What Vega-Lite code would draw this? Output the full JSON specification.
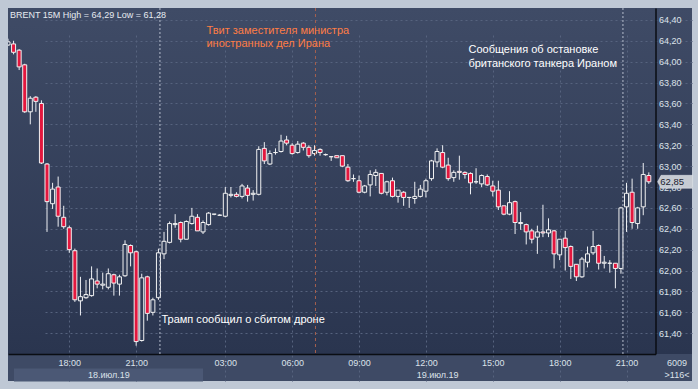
{
  "$schema": "https://vega.github.io/schema/vega-lite/v6.json",
  "width": 684,
  "height": 373,
  "autosize": "none",
  "padding": {"left": 8, "top": 8, "right": 6, "bottom": 8},
  "background": "#bfc8d5",
  "title": {"text": "BRENT 15M High = 64,29 Low = 61,28", "anchor": "start", "frame": "group", "orient": "top", "offset": -12, "baseline": "top", "dx": 2, "fontSize": 9, "fontWeight": "normal", "color": "#e6eaf0"},
  "config": {
    "font": "Liberation Sans",
    "locale": {"number": {"decimal": ",", "thousands": " ", "grouping": [3], "currency": ["", ""]}},
    "axisY": {"tickCount": 16, "labelOverlap": false, "labelFlush": false, "format": ".2f"},
    "view": {"stroke": null, "fill": {"gradient": "linear", "x1": 0, "y1": 0, "x2": 0, "y2": 1, "stops": [{"offset": 0, "color": "#3f4b66"}, {"offset": 0.927, "color": "#2a354f"}, {"offset": 0.928, "color": "#3e4a65"}, {"offset": 1, "color": "#3e4a65"}]}}
  },
  "datasets": {
    "candles": [
      {"t": "18 15:15", "o": 64.16, "h": 64.22, "l": 64.15, "c": 64.19},
      {"t": "18 15:30", "o": 64.17, "h": 64.20, "l": 64.07, "c": 64.09},
      {"t": "18 15:45", "o": 64.11, "h": 64.12, "l": 63.92, "c": 63.95},
      {"t": "18 16:00", "o": 63.97, "h": 63.98, "l": 63.51, "c": 63.52},
      {"t": "18 16:15", "o": 63.52, "h": 63.67, "l": 63.40, "c": 63.65},
      {"t": "18 16:30", "o": 63.66, "h": 63.67, "l": 63.52, "c": 63.62},
      {"t": "18 16:45", "o": 63.60, "h": 63.63, "l": 63.02, "c": 63.03},
      {"t": "18 17:00", "o": 63.02, "h": 63.03, "l": 62.37, "c": 62.66},
      {"t": "18 17:15", "o": 62.64, "h": 62.84, "l": 62.59, "c": 62.78},
      {"t": "18 17:30", "o": 62.80, "h": 62.90, "l": 62.42, "c": 62.52},
      {"t": "18 17:45", "o": 62.51, "h": 62.62, "l": 62.40, "c": 62.42},
      {"t": "18 18:00", "o": 62.41, "h": 62.43, "l": 62.17, "c": 62.20},
      {"t": "18 18:15", "o": 62.19, "h": 62.21, "l": 61.70, "c": 61.72},
      {"t": "18 18:30", "o": 61.71, "h": 61.94, "l": 61.57, "c": 61.75},
      {"t": "18 18:45", "o": 61.74, "h": 61.91, "l": 61.73, "c": 61.77},
      {"t": "18 19:00", "o": 61.76, "h": 62.04, "l": 61.75, "c": 61.92},
      {"t": "18 19:15", "o": 61.90, "h": 62.02, "l": 61.83, "c": 61.87},
      {"t": "18 19:30", "o": 61.86, "h": 61.98, "l": 61.82, "c": 61.87},
      {"t": "18 19:45", "o": 61.84, "h": 62.02, "l": 61.82, "c": 61.97},
      {"t": "18 20:00", "o": 61.96, "h": 61.97, "l": 61.76, "c": 61.88},
      {"t": "18 20:15", "o": 61.87, "h": 61.96, "l": 61.76, "c": 61.94},
      {"t": "18 20:30", "o": 61.95, "h": 62.29, "l": 61.94, "c": 62.25},
      {"t": "18 20:45", "o": 62.24, "h": 62.25, "l": 62.04, "c": 62.17},
      {"t": "18 21:00", "o": 62.18, "h": 62.19, "l": 61.28, "c": 61.32},
      {"t": "18 21:15", "o": 61.33, "h": 61.97, "l": 61.32, "c": 61.93},
      {"t": "18 21:30", "o": 61.94, "h": 61.95, "l": 61.52, "c": 61.59},
      {"t": "18 21:45", "o": 61.60, "h": 61.74, "l": 61.57, "c": 61.72},
      {"t": "18 22:00", "o": 61.74, "h": 62.21, "l": 61.72, "c": 62.17},
      {"t": "18 22:15", "o": 62.16, "h": 62.37, "l": 62.11, "c": 62.28},
      {"t": "18 22:30", "o": 62.27, "h": 62.47, "l": 62.26, "c": 62.45},
      {"t": "18 22:45", "o": 62.44, "h": 62.54, "l": 62.41, "c": 62.45},
      {"t": "19 01:00", "o": 62.46, "h": 62.47, "l": 62.27, "c": 62.30},
      {"t": "19 01:15", "o": 62.30, "h": 62.48, "l": 62.30, "c": 62.47},
      {"t": "19 01:30", "o": 62.45, "h": 62.60, "l": 62.44, "c": 62.52},
      {"t": "19 01:45", "o": 62.51, "h": 62.54, "l": 62.38, "c": 62.38},
      {"t": "19 02:00", "o": 62.37, "h": 62.48, "l": 62.35, "c": 62.46},
      {"t": "19 02:15", "o": 62.44, "h": 62.56, "l": 62.43, "c": 62.55},
      {"t": "19 02:30", "o": 62.54, "h": 62.54, "l": 62.53, "c": 62.54},
      {"t": "19 02:45", "o": 62.53, "h": 62.54, "l": 62.53, "c": 62.53},
      {"t": "19 03:00", "o": 62.52, "h": 62.80, "l": 62.51, "c": 62.74},
      {"t": "19 03:15", "o": 62.72, "h": 62.80, "l": 62.70, "c": 62.73},
      {"t": "19 03:30", "o": 62.73, "h": 62.75, "l": 62.70, "c": 62.71},
      {"t": "19 03:45", "o": 62.71, "h": 62.83, "l": 62.69, "c": 62.81},
      {"t": "19 04:00", "o": 62.79, "h": 62.82, "l": 62.66, "c": 62.72},
      {"t": "19 04:15", "o": 62.73, "h": 62.77, "l": 62.67, "c": 62.74},
      {"t": "19 04:30", "o": 62.73, "h": 63.19, "l": 62.72, "c": 63.16},
      {"t": "19 04:45", "o": 63.17, "h": 63.23, "l": 63.02, "c": 63.05},
      {"t": "19 05:00", "o": 63.02, "h": 63.15, "l": 63.01, "c": 63.12},
      {"t": "19 05:15", "o": 63.13, "h": 63.17, "l": 63.11, "c": 63.13},
      {"t": "19 05:30", "o": 63.14, "h": 63.30, "l": 63.13, "c": 63.24},
      {"t": "19 05:45", "o": 63.25, "h": 63.29, "l": 63.20, "c": 63.22},
      {"t": "19 06:00", "o": 63.20, "h": 63.22, "l": 63.11, "c": 63.12},
      {"t": "19 06:15", "o": 63.13, "h": 63.24, "l": 63.12, "c": 63.21},
      {"t": "19 06:30", "o": 63.22, "h": 63.23, "l": 63.15, "c": 63.18},
      {"t": "19 06:45", "o": 63.18, "h": 63.20, "l": 63.08, "c": 63.10},
      {"t": "19 07:00", "o": 63.12, "h": 63.20, "l": 63.10, "c": 63.15},
      {"t": "19 07:15", "o": 63.16, "h": 63.17, "l": 63.10, "c": 63.13},
      {"t": "19 07:30", "o": 63.11, "h": 63.12, "l": 63.10, "c": 63.11},
      {"t": "19 07:45", "o": 63.09, "h": 63.09, "l": 63.05, "c": 63.09},
      {"t": "19 08:00", "o": 63.10, "h": 63.10, "l": 63.08, "c": 63.08},
      {"t": "19 08:15", "o": 63.10, "h": 63.10, "l": 62.99, "c": 63.00},
      {"t": "19 08:30", "o": 62.99, "h": 63.02, "l": 62.85, "c": 62.86},
      {"t": "19 08:45", "o": 62.88, "h": 62.92, "l": 62.85, "c": 62.88},
      {"t": "19 09:00", "o": 62.86, "h": 62.91, "l": 62.74, "c": 62.75},
      {"t": "19 09:15", "o": 62.75, "h": 62.82, "l": 62.74, "c": 62.81},
      {"t": "19 09:30", "o": 62.82, "h": 62.96, "l": 62.71, "c": 62.92},
      {"t": "19 09:45", "o": 62.91, "h": 62.97, "l": 62.81, "c": 62.94},
      {"t": "19 10:00", "o": 62.93, "h": 62.93, "l": 62.73, "c": 62.74},
      {"t": "19 10:15", "o": 62.75, "h": 62.86, "l": 62.72, "c": 62.85},
      {"t": "19 10:30", "o": 62.86, "h": 62.89, "l": 62.70, "c": 62.71},
      {"t": "19 10:45", "o": 62.71, "h": 62.77, "l": 62.65, "c": 62.77},
      {"t": "19 11:00", "o": 62.75, "h": 62.76, "l": 62.62, "c": 62.70},
      {"t": "19 11:15", "o": 62.70, "h": 62.70, "l": 62.60, "c": 62.70},
      {"t": "19 11:30", "o": 62.69, "h": 62.85, "l": 62.64, "c": 62.71},
      {"t": "19 11:45", "o": 62.71, "h": 62.82, "l": 62.70, "c": 62.78},
      {"t": "19 12:00", "o": 62.76, "h": 62.88, "l": 62.70, "c": 62.86},
      {"t": "19 12:15", "o": 62.88, "h": 63.06, "l": 62.86, "c": 63.05},
      {"t": "19 12:30", "o": 63.04, "h": 63.17, "l": 62.99, "c": 63.14},
      {"t": "19 12:45", "o": 63.13, "h": 63.20, "l": 62.98, "c": 62.99},
      {"t": "19 13:00", "o": 63.01, "h": 63.08, "l": 62.86, "c": 62.88},
      {"t": "19 13:15", "o": 62.89, "h": 62.96, "l": 62.85, "c": 62.94},
      {"t": "19 13:30", "o": 62.95, "h": 63.10, "l": 62.87, "c": 62.94},
      {"t": "19 13:45", "o": 62.94, "h": 62.95, "l": 62.88, "c": 62.92},
      {"t": "19 14:00", "o": 62.93, "h": 62.94, "l": 62.73, "c": 62.84},
      {"t": "19 14:15", "o": 62.85, "h": 62.98, "l": 62.83, "c": 62.85},
      {"t": "19 14:30", "o": 62.83, "h": 62.92, "l": 62.80, "c": 62.91},
      {"t": "19 14:45", "o": 62.90, "h": 62.92, "l": 62.81, "c": 62.82},
      {"t": "19 15:00", "o": 62.81, "h": 62.86, "l": 62.71, "c": 62.76},
      {"t": "19 15:15", "o": 62.77, "h": 62.86, "l": 62.58, "c": 62.61},
      {"t": "19 15:30", "o": 62.62, "h": 62.62, "l": 62.53, "c": 62.54},
      {"t": "19 15:45", "o": 62.54, "h": 62.76, "l": 62.53, "c": 62.65},
      {"t": "19 16:00", "o": 62.66, "h": 62.67, "l": 62.35, "c": 62.46},
      {"t": "19 16:15", "o": 62.45, "h": 62.56, "l": 62.39, "c": 62.46},
      {"t": "19 16:30", "o": 62.44, "h": 62.45, "l": 62.25, "c": 62.37},
      {"t": "19 16:45", "o": 62.38, "h": 62.40, "l": 62.26, "c": 62.30},
      {"t": "19 17:00", "o": 62.32, "h": 62.43, "l": 62.16, "c": 62.37},
      {"t": "19 17:15", "o": 62.37, "h": 62.63, "l": 62.32, "c": 62.36},
      {"t": "19 17:30", "o": 62.36, "h": 62.50, "l": 62.32, "c": 62.39},
      {"t": "19 17:45", "o": 62.38, "h": 62.39, "l": 62.02, "c": 62.16},
      {"t": "19 18:00", "o": 62.15, "h": 62.30, "l": 62.10, "c": 62.30},
      {"t": "19 18:15", "o": 62.31, "h": 62.38, "l": 62.00, "c": 62.22},
      {"t": "19 18:30", "o": 62.23, "h": 62.24, "l": 61.92, "c": 62.04},
      {"t": "19 18:45", "o": 62.06, "h": 62.06, "l": 61.90, "c": 61.94},
      {"t": "19 19:00", "o": 61.94, "h": 62.13, "l": 61.93, "c": 62.11},
      {"t": "19 19:15", "o": 62.08, "h": 62.23, "l": 62.03, "c": 62.16},
      {"t": "19 19:30", "o": 62.17, "h": 62.38, "l": 62.15, "c": 62.23},
      {"t": "19 19:45", "o": 62.24, "h": 62.25, "l": 62.01, "c": 62.07},
      {"t": "19 20:00", "o": 62.07, "h": 62.14, "l": 62.02, "c": 62.08},
      {"t": "19 20:15", "o": 62.07, "h": 62.10, "l": 61.98, "c": 62.07},
      {"t": "19 20:30", "o": 62.07, "h": 62.07, "l": 61.83, "c": 62.02},
      {"t": "19 20:45", "o": 62.02, "h": 62.61, "l": 61.97, "c": 62.60},
      {"t": "19 21:00", "o": 62.61, "h": 62.84, "l": 62.37, "c": 62.74},
      {"t": "19 21:15", "o": 62.75, "h": 62.88, "l": 62.40, "c": 62.46},
      {"t": "19 21:30", "o": 62.45, "h": 62.61, "l": 62.40, "c": 62.60},
      {"t": "19 21:45", "o": 62.61, "h": 63.03, "l": 62.53, "c": 62.92},
      {"t": "19 22:00", "o": 62.91, "h": 62.94, "l": 62.83, "c": 62.85}
    ]
  },
  "layer": [
    {
      "data": {"name": "candles"},
      "mark": {"type": "rule", "color": "#eef0f4", "strokeWidth": 1, "clip": true},
      "encoding": {
        "x": {"field": "t", "type": "ordinal", "scale": {"type": "point", "range": [0, 647.5], "padding": 0.6, "align": 0},
          "axis": {"orient": "bottom", "values": ["18 18:00", "18 21:00", "19 03:00", "19 06:00", "19 09:00", "19 12:00", "19 15:00", "19 18:00", "19 21:00"],
            "labelExpr": "slice(datum.value, 3)", "offset": -27, "domain": true, "domainColor": "#0a0d13", "domainWidth": 1.5,
            "ticks": false, "labelPadding": 4.5, "labelBaseline": "top", "labelAngle": 0, "labelFontSize": 9, "labelColor": "#dce2ea",
            "labelOverlap": false, "grid": true, "gridColor": "#56637e", "gridDash": [2, 3], "gridWidth": 1, "title": null}},
        "y": {"field": "l", "type": "quantitative", "scale": {"domain": [61.201, 64.514], "range": [346, 0], "zero": false, "nice": false},
          "axis": {"orient": "right", "offset": -36.5, "tickCount": 16, "values": [61.4, 61.6, 61.8, 62, 62.2, 62.4, 62.6, 62.8, 63, 63.2, 63.4, 63.6, 63.8, 64, 64.2, 64.4],
            "format": ".2f", "labelColor": "#dce2ea", "labelFontSize": 9, "labelPadding": 3, "ticks": false, "domain": true,
            "domainColor": "#0a0d13", "domainWidth": 1.5, "grid": true, "gridColor": "#56637e", "gridDash": [2, 3], "gridWidth": 1,
            "title": null, "labelOverlap": false, "labelFlush": false, "labelAlign": "left", "labelBaseline": "middle"}},
        "y2": {"field": "h"}
      }
    },
    {
      "data": {"name": "candles"},
      "mark": {"type": "bar", "size": 4, "stroke": "#f2f2f2", "strokeWidth": 1, "clip": true},
      "encoding": {
        "x": {"field": "t", "type": "ordinal", "scale": {"type": "point", "range": [0, 647.5], "padding": 0.6, "align": 0},
          "axis": {"orient": "bottom", "values": ["18 19:45", "19 12:30"], "labelExpr": "slice(datum.value, 0, 2) + '.июл.19'", "offset": -13,
            "domain": false, "grid": false, "ticks": true, "tickSize": 13,
            "tickWidth": {"condition": {"test": "datum.value == '18 19:45'", "value": 189}, "value": 0},
            "tickColor": "#4b5875", "tickCap": "butt", "labelPadding": -11, "labelBaseline": "top", "labelAngle": 0,
            "labelFontSize": 9, "labelColor": "#dce2ea", "labelOverlap": false,
            "title": ["6009", ">116<"], "titleX": 668.5, "titleY": -10, "titleAlign": "center", "titleBaseline": "top",
            "titleFontSize": 9, "titleFontWeight": "normal", "titleColor": "#dce2ea", "titleLineHeight": 12.6}},
        "y": {"field": "o", "type": "quantitative"},
        "y2": {"field": "c"},
        "fill": {"condition": {"test": "datum.c < datum.o", "value": "#e3173e"}, "value": "#313d58"}
      }
    },
    {
      "data": {"values": [{"t": "18 22:00"}]},
      "mark": {"type": "rule", "stroke": "#b4bccb", "strokeDash": [2, 2], "strokeWidth": 1, "xOffset": 1.5},
      "encoding": {
        "x": {"field": "t", "type": "ordinal", "axis": null},
        "y": {"datum": 64.514},
        "y2": {"datum": 61.201}
      }
    },
    {
      "data": {"values": [{"t": "19 07:00"}]},
      "mark": {"type": "rule", "stroke": "#a5604f", "strokeDash": [3, 3], "strokeWidth": 1, "xOffset": 1},
      "encoding": {
        "x": {"field": "t", "type": "ordinal", "axis": null},
        "y": {"datum": 64.514},
        "y2": {"datum": 61.201}
      }
    },
    {
      "data": {"values": [{"t": "19 20:45"}]},
      "mark": {"type": "rule", "stroke": "#b4bccb", "strokeDash": [2, 2], "strokeWidth": 1, "xOffset": 2},
      "encoding": {
        "x": {"field": "t", "type": "ordinal", "axis": null},
        "y": {"datum": 64.514},
        "y2": {"datum": 61.201}
      }
    },
    {
      "data": {"values": [{"t": "18 22:00", "label": "Трамп сообщил о сбитом дроне"}]},
      "mark": {"type": "text", "align": "left", "baseline": "middle", "dx": 3, "fontSize": 11, "color": "#ffffff"},
      "encoding": {
        "x": {"field": "t", "type": "ordinal", "axis": null},
        "y": {"datum": 61.522},
        "text": {"field": "label"}
      }
    },
    {
      "data": {"values": [{"t": "19 07:00", "label": ["Твит заместителя министра", "иностранных дел Ирана"]}]},
      "mark": {"type": "text", "align": "left", "baseline": "top", "dx": -108, "fontSize": 11, "lineHeight": 12.8, "color": "#ff7d45"},
      "encoding": {
        "x": {"field": "t", "type": "ordinal", "axis": null},
        "y": {"datum": 64.35},
        "text": {"field": "label"}
      }
    },
    {
      "data": {"values": [{"t": "19 20:45", "label": ["Сообщения об остановке", "британского танкера Ираном"]}]},
      "mark": {"type": "text", "align": "left", "baseline": "top", "dx": -152.5, "fontSize": 11, "lineHeight": 13.4, "color": "#ffffff"},
      "encoding": {
        "x": {"field": "t", "type": "ordinal", "axis": null},
        "y": {"datum": 64.167},
        "text": {"field": "label"}
      }
    },
    {
      "data": {"name": "candles"},
      "transform": [{"filter": "datum.t == '19 22:00'"}],
      "mark": {"type": "point", "shape": "M -1 0 L -0.8 -0.37 L 1 -0.37 L 1 0.37 L -0.8 0.37 Z", "size": 1225, "filled": true, "fill": "#c6cbd3", "stroke": "#e9ecf0", "strokeWidth": 0.5, "opacity": 1, "xOffset": 26.3, "clip": false},
      "encoding": {
        "x": {"field": "t", "type": "ordinal", "axis": null},
        "y": {"field": "c", "type": "quantitative"}
      }
    },
    {
      "data": {"name": "candles"},
      "transform": [{"filter": "datum.t == '19 22:00'"}],
      "mark": {"type": "text", "align": "left", "baseline": "middle", "dx": 11.5, "fontSize": 9.5, "color": "#1b2130"},
      "encoding": {
        "x": {"field": "t", "type": "ordinal", "axis": null},
        "y": {"field": "c", "type": "quantitative"},
        "text": {"field": "c", "type": "quantitative", "format": ".2f"}
      }
    }
  ],
  "resolve": {"axis": {"x": "independent"}}
}
